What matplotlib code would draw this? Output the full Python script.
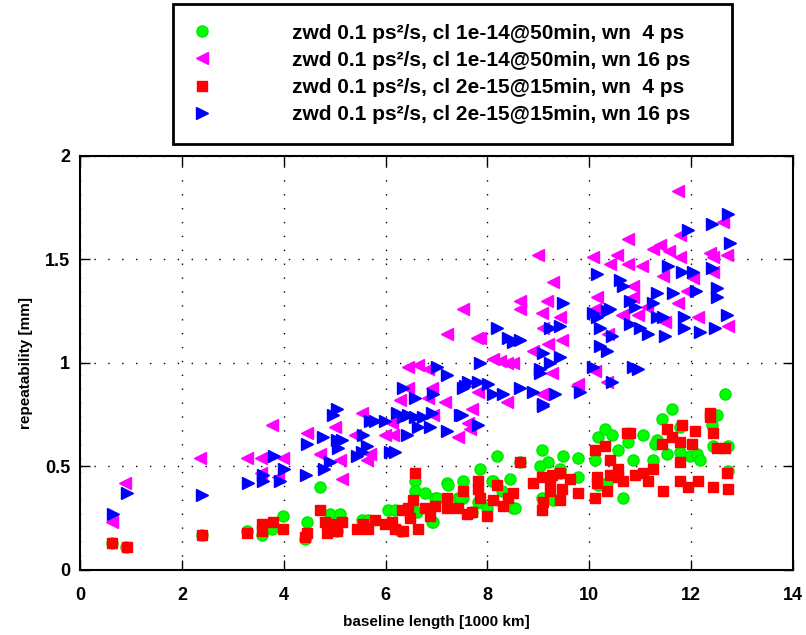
import matplotlib
matplotlib.use("Agg")
import matplotlib.pyplot as plt
from matplotlib.patches import Rectangle

# values (baseline length [1000 km], repeatability [mm])
green_x = [0.63, 0.90, 2.39, 3.28, 3.57, 3.77, 3.98, 4.45, 4.42, 4.71, 4.91, 5.10, 5.04, 5.53, 5.66,
           6.05, 6.19, 6.28, 6.48, 6.61, 6.58, 6.58, 6.77, 6.97, 6.91, 7.20, 7.42, 7.52, 7.52, 7.85,
           8.19, 8.11, 8.44, 8.29, 7.85, 7.99, 8.50, 7.70, 8.64, 9.07, 9.19, 9.03, 9.49, 9.42, 9.78,
           9.07, 9.29, 9.23, 10.11, 10.17, 10.31, 10.44, 10.56, 10.76, 10.66, 10.17, 10.35, 11.62,
           11.43, 12.66, 12.51, 12.41, 11.78, 11.05, 11.33, 11.29, 11.53, 11.78, 11.98, 12.11, 12.17,
           12.43, 12.72, 10.86, 11.25, 7.23, 8.09, 7.01, 7.46, 7.82, 8.54, 6.93, 9.42, 9.78, 12.72]
green_y = [0.13, 0.11, 0.17, 0.19, 0.17, 0.20, 0.26, 0.23, 0.15, 0.40, 0.27, 0.27, 0.19, 0.24, 0.24,
           0.29, 0.29, 0.19, 0.30, 0.28, 0.43, 0.38, 0.37, 0.35, 0.23, 0.42, 0.35, 0.43, 0.35, 0.49,
           0.55, 0.43, 0.44, 0.38, 0.33, 0.30, 0.30, 0.28, 0.52, 0.58, 0.52, 0.50, 0.55, 0.49, 0.54,
           0.35, 0.34, 0.44, 0.53, 0.64, 0.68, 0.65, 0.58, 0.62, 0.35, 0.41, 0.42, 0.78,
           0.73, 0.85, 0.75, 0.70, 0.69, 0.65, 0.63, 0.61, 0.56, 0.57, 0.55, 0.56, 0.53,
           0.60, 0.60, 0.53, 0.53, 0.41, 0.43, 0.35, 0.35, 0.33, 0.30, 0.23, 0.47, 0.45, 0.48]

magenta_x = [0.63, 0.88, 2.36, 3.28, 3.55, 3.77, 3.99, 3.55, 3.89, 4.45, 4.71, 5.00, 5.10, 5.14, 5.40,
             5.53, 5.63, 5.70, 5.99, 6.15, 6.12, 6.28, 6.44, 6.44, 6.64, 6.83, 6.91, 6.83, 6.93, 7.17,
             7.42, 7.20, 7.52, 7.79, 7.81, 7.70, 7.62, 7.66, 8.11, 8.25, 8.38, 8.50, 8.38, 8.64, 8.64,
             8.90, 9.07, 9.17, 9.10, 9.19, 9.29, 9.42, 9.46, 9.27, 9.07, 9.78, 10.11, 10.35, 10.15,
             10.11, 10.37, 10.64, 11.74, 10.76, 10.07, 10.40, 10.54, 10.76, 11.03, 11.25, 11.39, 11.57,
             11.78, 11.78, 12.62, 12.37, 12.43, 12.70, 12.43, 11.45, 12.04, 10.86, 10.86, 11.13, 11.74,
             11.92, 10.66, 10.96, 11.49, 12.14, 12.72, 9.00, 7.85, 9.76]
magenta_y = [0.23, 0.42, 0.54, 0.54, 0.54, 0.70, 0.54, 0.47, 0.45, 0.66, 0.56, 0.69, 0.53, 0.44, 0.65,
             0.76, 0.53, 0.56, 0.65, 0.65, 0.71, 0.82, 0.88, 0.98, 0.99, 0.97, 0.88, 0.83, 0.75, 0.81,
             0.64, 1.14, 1.26, 1.12, 0.86, 0.78, 0.71, 0.68, 1.02, 1.01, 1.00, 1.00, 0.81, 1.30, 1.26,
             1.06, 1.24, 1.30, 1.17, 1.09, 1.39, 1.22, 1.11, 0.95, 0.85, 0.90, 0.96, 0.91, 1.32,
             1.26, 1.14, 1.23, 1.83, 1.60, 1.51, 1.48, 1.52, 1.48, 1.47, 1.55, 1.57, 1.54,
             1.51, 1.62, 1.68, 1.53, 1.51, 1.52, 1.44, 1.42, 1.41, 1.37, 1.32, 1.27, 1.29,
             1.35, 1.23, 1.23, 1.20, 1.22, 1.18, 1.52, 1.12, 0.89]

red_x = [0.63, 0.92, 2.39, 3.28, 3.57, 3.57, 3.79, 3.98, 4.42, 4.45, 4.71, 4.81, 4.85, 4.95, 5.04,
         5.14, 5.43, 5.56, 5.66, 5.79, 5.99, 6.12, 6.19, 6.34, 6.32, 6.44, 6.54, 6.58, 6.48, 6.64,
         6.77, 6.87, 6.97, 7.20, 7.20, 7.42, 7.52, 7.60, 7.81, 7.81, 7.85, 7.70, 7.99, 8.11, 8.19,
         8.31, 8.41, 8.50, 8.64, 8.90, 9.07, 9.23, 9.42, 9.46, 9.23, 9.42, 9.09, 9.07, 9.78, 10.11,
         10.31, 10.15, 10.15, 10.11, 10.35, 10.41, 10.56, 10.41, 10.66, 10.74, 12.37, 12.37, 11.82,
         11.53, 12.07, 12.43, 11.62, 11.78, 11.43, 12.02, 12.51, 12.66, 11.78, 12.70, 11.78, 11.94,
         12.14, 12.43, 12.72, 11.45, 11.15, 11.05, 11.26, 10.90, 10.80, 10.56, 9.27, 9.62]
red_y = [0.13, 0.11, 0.17, 0.18, 0.22, 0.19, 0.23, 0.20, 0.16, 0.18, 0.29, 0.23, 0.18, 0.22, 0.19,
         0.23, 0.20, 0.22, 0.20, 0.24, 0.22, 0.23, 0.20, 0.19, 0.29, 0.30, 0.34, 0.47, 0.25, 0.20,
         0.30, 0.26, 0.31, 0.30, 0.35, 0.30, 0.38, 0.27, 0.43, 0.39, 0.35, 0.28, 0.26, 0.34, 0.41,
         0.31, 0.35, 0.37, 0.52, 0.42, 0.45, 0.43, 0.47, 0.39, 0.38, 0.34, 0.33, 0.29, 0.37, 0.58,
         0.60, 0.45, 0.42, 0.35, 0.38, 0.53, 0.49, 0.46, 0.43, 0.66, 0.76, 0.74, 0.70,
         0.68, 0.67, 0.66, 0.64, 0.62, 0.61, 0.61, 0.59, 0.59, 0.52, 0.47, 0.43, 0.40,
         0.43, 0.40, 0.39, 0.38, 0.43, 0.47, 0.49, 0.46, 0.66, 0.45, 0.46, 0.44]

blue_x = [0.65, 0.93, 2.40, 3.30, 3.60, 3.60, 3.80, 4.00, 3.93, 4.45, 4.78, 4.44, 4.80, 4.90, 4.97,
          5.04, 5.04, 5.14, 5.07, 5.43, 5.53, 5.56, 5.63, 5.70, 5.79, 5.99, 6.09, 6.19, 6.22, 6.34,
          6.42, 6.34, 6.58, 6.44, 6.58, 6.64, 6.73, 6.87, 6.91, 6.93, 7.00, 7.20, 7.20, 7.46, 7.56,
          7.52, 7.62, 7.81, 8.01, 7.50, 7.81, 7.85, 8.11, 8.31, 8.19, 8.41, 8.50, 8.64, 8.64, 8.90,
          9.03, 9.10, 9.10, 9.23, 9.33, 9.42, 9.42, 9.49, 9.23, 9.03, 9.82, 10.07, 10.44, 10.15,
          10.60, 10.15, 10.21, 10.35, 10.44, 10.21, 10.35, 10.07, 10.40, 10.66, 10.80, 10.90, 11.33,
          11.26, 11.33, 11.45, 10.80, 11.00, 11.15, 11.49, 11.55, 11.82, 12.04, 11.65, 11.86, 11.86,
          12.17, 12.47, 12.70, 12.10, 12.50, 12.50, 12.41, 11.94, 12.41, 12.72, 12.76, 10.96, 10.86, 9.09]
blue_y = [0.27, 0.37, 0.36, 0.42, 0.46, 0.43, 0.55, 0.49, 0.43, 0.61, 0.64, 0.46, 0.49, 0.52, 0.75,
          0.78, 0.63, 0.63, 0.59, 0.55, 0.57, 0.65, 0.60, 0.72, 0.72, 0.72, 0.57, 0.57, 0.76, 0.74,
          0.65, 0.88, 0.83, 0.75, 0.74, 0.69, 0.74, 0.69, 0.76, 0.85, 0.98, 0.94, 0.67, 0.75, 0.89,
          0.88, 0.91, 0.91, 0.90, 0.75, 0.70, 1.00, 0.85, 0.85, 1.17, 1.12, 1.10, 1.11, 0.88, 0.86,
          0.95, 1.05, 0.80, 1.17, 0.85, 1.18, 1.03, 1.29, 1.00, 0.97, 0.86, 0.98, 0.91, 1.43,
          1.40, 1.22, 1.17, 1.25, 1.13, 1.08, 1.06, 1.24, 1.26, 1.37, 1.30, 1.27, 1.34,
          1.29, 1.22, 1.22, 1.19, 1.17, 1.14, 1.13, 1.47, 1.44, 1.44, 1.34, 1.17, 1.22,
          1.15, 1.17, 1.23, 1.35, 1.36, 1.32, 1.46, 1.64, 1.67, 1.72, 1.58, 0.97, 0.98, 0.79]

labels = ["zwd 0.1 ps\u00b2/s, cl 1e-14@50min, wn  4 ps",
          "zwd 0.1 ps\u00b2/s, cl 1e-14@50min, wn 16 ps",
          "zwd 0.1 ps\u00b2/s, cl 2e-15@15min, wn  4 ps",
          "zwd 0.1 ps\u00b2/s, cl 2e-15@15min, wn 16 ps"]

plt.rcParams['font.family'] = ['Liberation Sans', 'DejaVu Sans']
plt.rcParams['font.weight'] = 'bold'

fig = plt.figure(figsize=(8.06, 6.35), dpi=100)
ax = fig.add_axes([0.0993, 0.1024, 0.8846, 0.652])

# same drawing order as the legend
ax.plot(green_x, green_y, 'o', color=(0, 1, 0), mec=(0, 0.9, 0), ms=8, label=labels[0])
ax.plot(magenta_x, magenta_y, '<', color=(1, 0, 1), mec=(1, 0, 1), ms=9, label=labels[1])
ax.plot(red_x, red_y, 's', color=(1, 0, 0), mec=(1, 0, 0), ms=7, label=labels[2])
ax.plot(blue_x, blue_y, '>', color=(0, 0, 1), mec=(0, 0, 1), ms=9, label=labels[3])

ax.set_xlim(0, 14)
ax.set_ylim(0, 2)
ax.set_xticks(range(0, 15, 2))
ax.set_yticks([0, 0.5, 1, 1.5, 2])
ax.set_yticklabels(['0', '0.5', '1', '1.5', '2'])
ax.tick_params(direction='in', top=True, right=True, length=7, width=1, labelsize=13)
ax.tick_params(axis='x', pad=12)
ax.tick_params(axis='y', pad=7)
for s in ax.spines.values():
    s.set_linewidth(1.5)
ax.grid(True, color='black', linestyle=(0, (1, 9)), linewidth=1.0)
ax.set_axisbelow(True)

ax.set_xlabel('baseline length [1000 km]', fontsize=11, fontweight='bold', labelpad=8)
ax.set_ylabel('repeatability [mm]', fontsize=11, fontweight='bold', labelpad=9)

leg = fig.legend(loc='upper center', bbox_to_anchor=(0.5478, 0.994), fontsize=15,
                 handlelength=0.9, handletextpad=3.9, labelspacing=0.39, borderpad=0.95,
                 borderaxespad=0, fancybox=False, frameon=False)

# matlab-style box: a bit more room on the right than matplotlib gives
fig.canvas.draw()
bb = leg.get_window_extent().transformed(fig.transFigure.inverted())
extra = 22 / fig.bbox.width
box = Rectangle((bb.x0, bb.y0), bb.width + extra, bb.height, transform=fig.transFigure,
                facecolor='white', edgecolor='black', linewidth=2, zorder=4)
fig.add_artist(box)

plt.savefig('out.png', dpi=100)
